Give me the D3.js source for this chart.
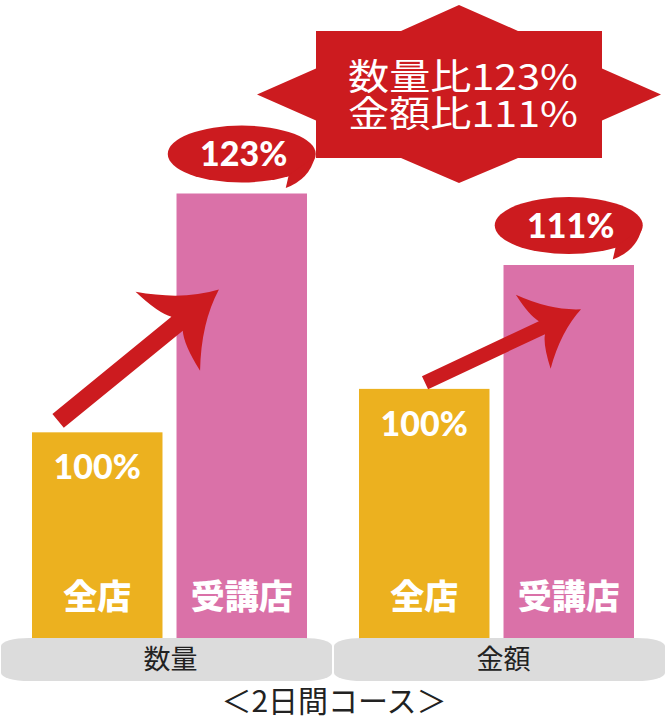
<!DOCTYPE html>
<html>
<head>
<meta charset="utf-8">
<script src="https://cdn.jsdelivr.net/npm/d3@7"></script>
<style>
  body { margin: 0; background: #fff; }
  svg { display: block; }
</style>
</head>
<body>
<svg width="666" height="726"></svg>
<script>
// Data
const groups = ["数量", "金額"];
const stores = ["全店", "受講店"];
const groupValues = [[100, 123], [100, 111]];
// each group has its own (non-zero) value axis in the original picture
const groupDomains = [[80, 123], [77.7, 117.35]];
const ratioLines = ["数量比123%", "金額比111%"];
const courseLabel = "＜2日間コース＞";
// arrows: [fraction across bar, value]
const arrowFrom = [[0.2, 101.1], [0.506, 100.55]];
const arrowTo = [[0.325, 113.75], [0.594, 107.07]];
const arrowSize = [1, 0.8];

const svg = d3.select("svg");
const width = +svg.attr("width");

const red = "#cc1b1f";
const color = d3.scaleOrdinal().domain(stores).range(["#ecb11f", "#da71a8"]);
const jp = "'Noto Sans CJK JP', 'Noto Sans', sans-serif";

// Scales
const x0 = d3.scaleBand().domain(groups).range([32, 634]).paddingInner(0.159);
const x1 = d3.scaleBand().domain(stores).range([0, x0.bandwidth()]).paddingInner(0.097);
const baseX = d3.scaleBand().domain(groups).range([1, 665]).paddingInner(0.006);
const yScales = groupDomains.map(d => d3.scaleLinear().domain(d).range([640, 193.5]));

const rows = groups.flatMap((g, gi) => stores.map((s, si) => ({
    group: g, gi: gi, store: s, value: groupValues[gi][si]
})));

// Burst
const burst = { cx: 459, cy: 94.5 };
const burstPts = [
    [-143, -63.5], [-58, -63.5], [0, -89.5], [59, -63.5], [143, -63.5], [143, -26], [202, 0],
    [143, 26], [143, 63.5], [59, 63.5], [0, 88.5], [-58, 63.5], [-143, 63.5], [-143, 26],
    [-202, 0], [-143, -26]
];
svg.append("polygon")
    .attr("points", burstPts.map(p => [burst.cx + p[0], burst.cy + p[1]].join(",")).join(" "))
    .attr("fill", red);

// both ratio lines in one text block
svg.append("text")
    .attr("text-anchor", "middle")
    .style("font-family", jp)
    .style("font-size", "36px")
    .attr("fill", "#fff")
    .selectAll("tspan")
    .data(ratioLines)
    .join("tspan")
    .attr("x", 463)
    .attr("y", (d, i) => 90 + i * 37)
    .attr("textLength", 230)
    .attr("lengthAdjust", "spacingAndGlyphs")
    .text(d => d);

// Bars
const bars = svg.append("g").selectAll("g")
    .data(rows)
    .join("g")
    .attr("transform", d => `translate(${x0(d.group) + x1(d.store)},0)`);

bars.append("rect")
    .attr("y", d => yScales[d.gi](d.value))
    .attr("width", x1.bandwidth())
    .attr("height", d => yScales[d.gi].range()[0] - yScales[d.gi](d.value))
    .attr("fill", d => color(d.store));

bars.append("text")
    .attr("x", x1.bandwidth() / 2)
    .attr("y", 609)
    .attr("text-anchor", "middle")
    .style("font-family", jp)
    .style("font-size", "34px")
    .style("font-weight", 900)
    .attr("fill", "#fff")
    .text(d => d.store);

// 100% labels inside the base bars
bars.filter(d => d.store === stores[0]).append("text")
    .attr("x", x1.bandwidth() / 2)
    .attr("y", d => yScales[d.gi](d.value) + 47)
    .attr("text-anchor", "middle")
    .style("font-family", "Lato, sans-serif")
    .style("font-size", "34px")
    .style("font-weight", 900)
    .attr("fill", "#fff")
    .text(d => d.value + "%");

// Speech bubbles above the second bar
const bubbles = bars.filter(d => d.store === stores[1]).append("g")
    .attr("transform", d => `translate(${x1.bandwidth() / 2},${yScales[d.gi](d.value) - 39.5})`);

bubbles.append("ellipse")
    .attr("rx", 74)
    .attr("ry", 28.5)
    .attr("fill", red);

bubbles.append("path")
    .attr("d", "M73,3 Q68,25 44,34 L47,21 Z")
    .attr("fill", red);

bubbles.append("text")
    .attr("x", 2)
    .attr("y", 12)
    .attr("text-anchor", "middle")
    .style("font-family", "Lato, sans-serif")
    .style("font-size", "34px")
    .style("font-weight", 900)
    .attr("fill", "#fff")
    .text(d => d.value + "%");

// Arrows
function arrowPath(L, s) {
    const w = 9 * s, b = L - 66 * s, j = L - 54 * s, sp = 51 * s;
    return `M0,${-w} L${j},${-w} Q${L - 62 * s},${-20 * s} ${b},${-sp} ` +
        `Q${L - 35 * s},${-14.5 * s} ${L},0 Q${L - 35 * s},${14.5 * s} ${b},${sp} ` +
        `Q${L - 62 * s},${20 * s} ${j},${w} L0,${w} Z`;
}

groups.forEach((g, gi) => {
    const ax = x0(g) + x1(stores[0]) + arrowFrom[gi][0] * x1.bandwidth();
    const ay = yScales[gi](arrowFrom[gi][1]);
    const bx = x0(g) + x1(stores[1]) + arrowTo[gi][0] * x1.bandwidth();
    const by = yScales[gi](arrowTo[gi][1]);
    const L = Math.hypot(bx - ax, by - ay);
    const angle = Math.atan2(by - ay, bx - ax) * 180 / Math.PI;
    svg.append("path")
        .attr("transform", `translate(${ax},${ay}) rotate(${angle})`)
        .attr("d", arrowPath(L, arrowSize[gi]))
        .attr("fill", red);
});

// Gray bases with group names
const base = svg.append("g").selectAll("g")
    .data(groups)
    .join("g")
    .attr("transform", d => `translate(${baseX(d)},638)`);

base.append("rect")
    .attr("width", baseX.bandwidth())
    .attr("height", 43)
    .attr("rx", 28)
    .attr("ry", 8)
    .attr("fill", "#dcdcdc");

base.append("text")
    .attr("x", baseX.bandwidth() / 2 + 4)
    .attr("y", 31)
    .attr("text-anchor", "middle")
    .style("font-family", jp)
    .style("font-size", "27px")
    .attr("fill", "#222")
    .text(d => d);

svg.append("text")
    .attr("x", width / 2 + 1)
    .attr("y", 712)
    .attr("text-anchor", "middle")
    .style("font-family", jp)
    .style("font-size", "30px")
    .attr("fill", "#222")
    .text(courseLabel);
</script>
</body>
</html>
